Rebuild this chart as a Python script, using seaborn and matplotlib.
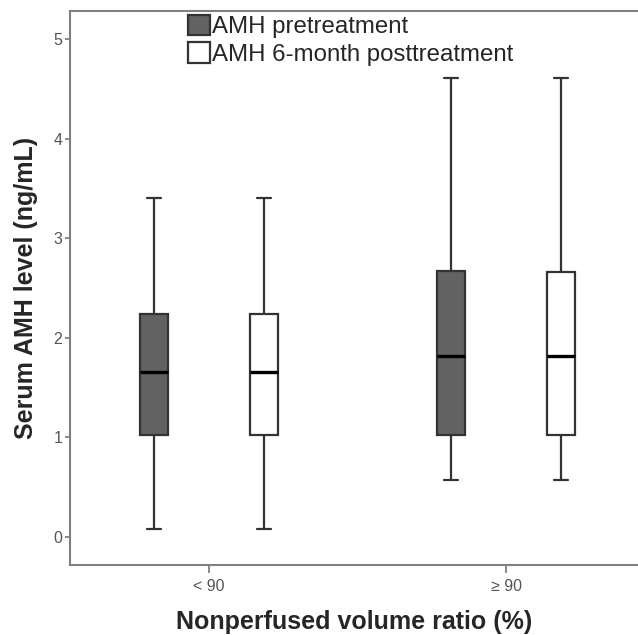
import numpy as np
import pandas as pd
import matplotlib
matplotlib.use("Agg")
import matplotlib.pyplot as plt
import seaborn as sns

# five-number summaries (min, Q1, median, Q3, max)
groups = ["< 90", "\u2265 90"]
treatments = ["AMH pretreatment", "AMH 6-month posttreatment"]
lt90_pre = [0.08, 1.02, 1.66, 2.24, 3.40]
lt90_post = [0.08, 1.02, 1.66, 2.24, 3.40]
ge90_pre = [0.57, 1.02, 1.82, 2.67, 4.61]
ge90_post = [0.57, 1.02, 1.82, 2.66, 4.61]

rows = []
for g, pre, post in [(groups[0], lt90_pre, lt90_post), (groups[1], ge90_pre, ge90_post)]:
    for v in pre:
        rows.append({"group": g, "treatment": treatments[0], "amh": v})
    for v in post:
        rows.append({"group": g, "treatment": treatments[1], "amh": v})
df = pd.DataFrame(rows)

sns.set_style("white")
plt.rcParams["font.family"] = ["Liberation Sans", "DejaVu Sans"]

fig = plt.figure(figsize=(6.38, 6.35), dpi=100)
ax = fig.add_axes([0.1097, 0.1102, 0.8903, 0.8725])

edge = "#333333"
sns.boxplot(data=df, x="group", y="amh", hue="treatment", order=groups,
            hue_order=treatments, palette=["#626262", "#ffffff"],
            width=0.74, gap=0.745, whis=np.inf, saturation=1,
            linecolor=edge, linewidth=1.6,
            medianprops={"color": "black", "linewidth": 2.4},
            ax=ax)

ax.set_xlim(-0.468, 1.444)
ax.set_ylim(-0.28, 5.28)
ax.set_yticks([0, 1, 2, 3, 4, 5])

tick_family = ["Liberation Sans Narrow", "Liberation Sans", "DejaVu Sans"]
for lab in ax.get_yticklabels() + ax.get_xticklabels():
    lab.set_fontfamily(tick_family)
    lab.set_color("#555555")
    lab.set_fontsize(11.5)

ax.tick_params(axis="y", length=3.6, width=1.2, color="#777777", pad=2, left=True)
ax.tick_params(axis="x", length=5.8, width=1.2, color="#777777", pad=4.5, bottom=True)

for side in ["left", "top", "bottom"]:
    ax.spines[side].set_color("#808080")
    ax.spines[side].set_linewidth(1.5)
ax.spines["right"].set_visible(False)

ax.set_ylabel("Serum AMH level (ng/mL)", fontsize=18, fontweight="bold", labelpad=11)
ax.set_xlabel("Nonperfused volume ratio (%)", fontsize=18, fontweight="bold", labelpad=11)

handles, labels = ax.get_legend_handles_labels()
ax.legend(handles, labels, loc="upper left", bbox_to_anchor=(0.2077, 0.993),
          frameon=False, fontsize=17.3, handlelength=0.92, handleheight=0.92,
          handletextpad=0.1, labelspacing=0.17, borderaxespad=0, borderpad=0)

fig.savefig("out.png", dpi=100)
